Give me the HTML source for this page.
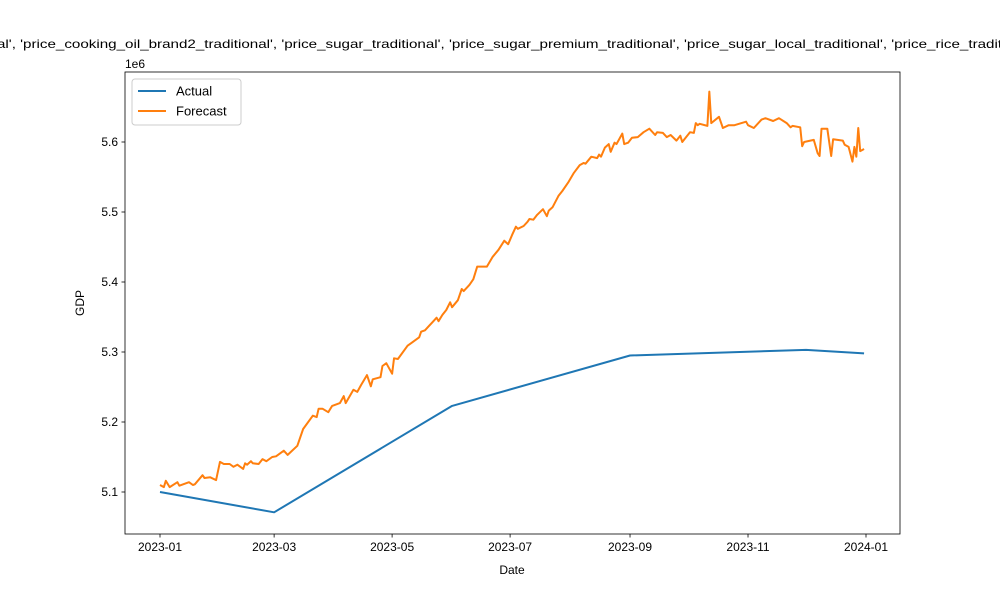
<!DOCTYPE html>
<html><head><meta charset="utf-8"><style>body{margin:0;background:#fff}svg{display:block;font-family:"Liberation Sans","DejaVu Sans",sans-serif}</style></head>
<body>
<svg id="chart" width="1000" height="600" viewBox="0 0 1000 600" xmlns="http://www.w3.org/2000/svg">
<rect width="1000" height="600" fill="#fff"/>
<text x="-3" y="48" font-size="12" fill="#000" textLength="1040" lengthAdjust="spacingAndGlyphs">al', 'price_cooking_oil_brand2_traditional', 'price_sugar_traditional', 'price_sugar_premium_traditional', 'price_sugar_local_traditional', 'price_rice_traditional'</text>
<g id="plot"></g>
</svg>
<script>
const actualDays=[0,59,151,243,334,364];
const actualVals=[5.100,5.071,5.223,5.295,5.303,5.298];
const fcDays=[0,2,3,5,9,10,15,17,18,22,23,26,29,31,33,36,38,40,43,44,45,47,48,51,53,55,58,60,64,66,71,74,79,81,82,84,87,89,93,95,96,100,102,104,107,109,110,114,115,117,120,121,123,128,130,134,135,137,139,141,143,144,146,148,150,151,154,156,157,159,160,162,164,165,169,172,175,178,180,182,184,185,188,190,191,193,195,198,200,201,203,206,208,211,214,217,219,220,223,226,227,228,230,232,233,235,236,239,240,242,244,247,250,253,256,257,260,262,264,267,269,270,274,276,277,278,279,283,284,285,289,291,294,297,303,304,307,311,313,317,320,324,326,327,331,332,333,338,340,341,342,345,347,348,353,354,356,358,359,360,361,362,364];
const fcVals=[5.110,5.107,5.116,5.107,5.114,5.109,5.114,5.110,5.111,5.124,5.120,5.121,5.117,5.143,5.140,5.140,5.136,5.139,5.133,5.141,5.139,5.144,5.141,5.140,5.147,5.144,5.150,5.151,5.159,5.153,5.166,5.190,5.209,5.207,5.219,5.219,5.214,5.223,5.227,5.237,5.227,5.246,5.243,5.253,5.267,5.251,5.261,5.264,5.280,5.284,5.269,5.291,5.290,5.309,5.313,5.321,5.329,5.331,5.337,5.343,5.349,5.344,5.353,5.360,5.371,5.364,5.374,5.390,5.387,5.393,5.396,5.404,5.422,5.422,5.422,5.436,5.446,5.459,5.454,5.467,5.479,5.476,5.480,5.486,5.490,5.489,5.496,5.504,5.494,5.502,5.507,5.523,5.530,5.542,5.556,5.567,5.570,5.569,5.579,5.577,5.582,5.579,5.592,5.597,5.586,5.599,5.597,5.612,5.597,5.599,5.606,5.607,5.614,5.619,5.610,5.614,5.613,5.607,5.610,5.602,5.609,5.600,5.614,5.613,5.627,5.624,5.626,5.623,5.672,5.627,5.636,5.620,5.624,5.624,5.629,5.624,5.620,5.632,5.634,5.630,5.634,5.627,5.621,5.623,5.621,5.594,5.600,5.603,5.584,5.580,5.619,5.619,5.580,5.604,5.602,5.596,5.593,5.572,5.593,5.579,5.620,5.587,5.590];
const xTickDays=[0,59,120,181,243,304,365];
const xTickLabels=["2023-01","2023-03","2023-05","2023-07","2023-09","2023-11","2024-01"];
const yTickVals=[5.1,5.2,5.3,5.4,5.5,5.6];
const yTickLabels=["5.1","5.2","5.3","5.4","5.5","5.6"];

const NS="http://www.w3.org/2000/svg";
const g=document.getElementById('plot');
const L=125,R=900,T=72,B=534;
const xs=d=>160+d*(706/365);
const ys=v=>492-(v-5.1)*700;
function mk(t,a){const e=document.createElementNS(NS,t);for(const k in a)e.setAttribute(k,a[k]);g.appendChild(e);return e;}

const frame=mk('rect',{x:L,y:T,width:R-L,height:B-T,fill:'none',stroke:'#000','stroke-width':0.8});



xTickDays.forEach((d,i)=>{
  const x=xs(d);
  const t=mk('line',{x1:x,x2:x,y1:B,y2:B+3.5,stroke:'#000','stroke-width':0.8});
  
  
  const l=mk('text',{x:x,y:B+17,'font-size':12,'text-anchor':'middle'});
  l.textContent=xTickLabels[i];
  
  
});
yTickVals.forEach((v,i)=>{
  const y=ys(v);
  const t=mk('line',{x1:L-3.5,x2:L,y1:y,y2:y,stroke:'#000','stroke-width':0.8});
  
  
  const l=mk('text',{x:L-7,y:y+4,'font-size':12,'text-anchor':'end'});
  l.textContent=yTickLabels[i];
  
  
});
const off=mk('text',{x:L,y:T-4,'font-size':12});off.textContent='1e6';


const xt=mk('text',{x:512,y:574,'font-size':12,'text-anchor':'middle'});xt.textContent='Date';


const yt=mk('text',{x:0,y:0,'font-size':12,'text-anchor':'middle',transform:'translate(84,303) rotate(-90)'});yt.textContent='GDP';



const a=mk('polyline',{points:actualDays.map((d,i)=>xs(d)+','+ys(actualVals[i])).join(' '),fill:'none',stroke:'#1f77b4','stroke-width':2,'stroke-linejoin':'round'});


const f=mk('polyline',{points:fcDays.map((d,i)=>xs(d)+','+ys(fcVals[i])).join(' '),fill:'none',stroke:'#ff7f0e','stroke-width':2,'stroke-linejoin':'round'});



const lg=mk('rect',{x:132,y:79,width:109,height:46,rx:3,fill:'#fff','fill-opacity':0.8,stroke:'#ccc','stroke-width':1});


[['Actual','#1f77b4',91],['Forecast','#ff7f0e',111]].forEach(([n,c,y])=>{
  const ln=mk('line',{x1:138,x2:166,y1:y,y2:y,stroke:c,'stroke-width':2});
  
  
  const tx=mk('text',{x:176,y:y+4.5,'font-size':13});tx.textContent=n;
  
  
});
</script>
</body></html>
